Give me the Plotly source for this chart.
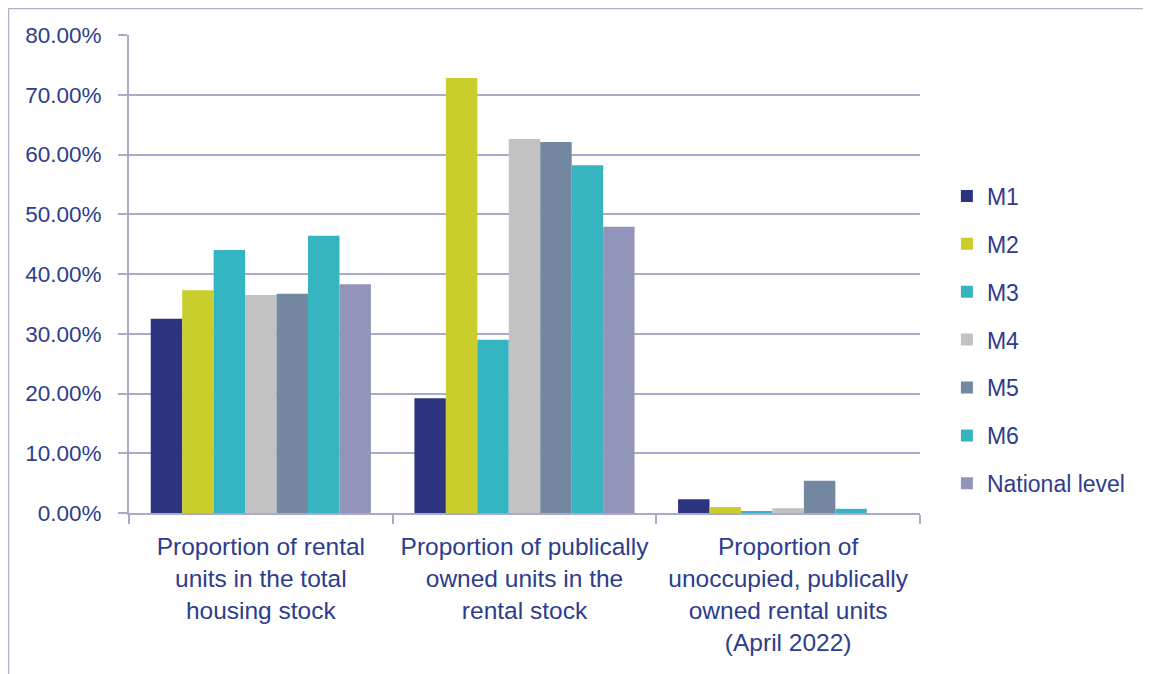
import plotly.graph_objects as go

categories = [
    "Proportion of rental<br>units in the total<br>housing stock",
    "Proportion of publically<br>owned units in the<br>rental stock",
    "Proportion of<br>unoccupied, publically<br>owned rental units<br>(April 2022)",
]
series_names = ["M1", "M2", "M3", "M4", "M5", "M6", "National level"]
m1 = [0.325, 0.192, 0.023]
m2 = [0.373, 0.728, 0.010]
m3 = [0.440, 0.290, 0.002]
m4 = [0.365, 0.626, 0.008]
m5 = [0.367, 0.621, 0.054]
m6 = [0.464, 0.582, 0.007]
national = [0.383, 0.479, None]
series_values = [m1, m2, m3, m4, m5, m6, national]
colors = ["#2c3482", "#c9ce2c", "#35b4c1", "#c2c2c2", "#7487a0", "#36b5c0", "#9294ba"]

text_color = "#2e3c8c"
grid_color = "#aaaac8"

W, H = 1143, 666
L, R, T, B = 121, 231, 27, 161

fig = go.Figure()
for i, (name, vals, col) in enumerate(zip(series_names, series_values, colors)):
    fig.add_trace(go.Bar(
        x=categories, y=vals, name=name, marker=dict(color=col, line=dict(width=0)),
        legendgroup=f"g{i}",
    ))

fig.update_layout(
    width=W, height=H,
    paper_bgcolor="white", plot_bgcolor="white",
    margin=dict(l=L, r=R, t=T, b=B, autoexpand=False),
    barmode="group", bargap=0.165, bargroupgap=0,
    font=dict(family="Liberation Sans, Arial, sans-serif", color=text_color, size=22),
    legend=dict(
        x=1.034, y=0.362, xanchor="left", yanchor="middle",
        font=dict(size=23, color=text_color),
        tracegroupgap=15, itemwidth=30,
    ),
    showlegend=True,
)
fig.update_yaxes(
    range=[0, 0.8], dtick=0.1, tickformat=".2%",
    showgrid=True, gridcolor=grid_color, gridwidth=2,
    showline=True, linecolor=grid_color, linewidth=2,
    ticks="outside", ticklen=9, tickcolor=grid_color, tickwidth=2,
    ticklabelstandoff=12, zeroline=False,
    tickfont=dict(size=22.5, color=text_color),
)
fig.update_xaxes(
    showline=True, linecolor=grid_color, linewidth=2,
    ticks="outside", tickson="boundaries", ticklen=9, tickcolor=grid_color, tickwidth=2,
    tickfont=dict(size=24.5, color=text_color),
    ticklabelstandoff=11,
)
pw = W - L - R
ph = H - T - B
# outer chart frame (left and top edges visible)
fx = (0.5 - L) / pw
fy = (H - 0.5 - B) / ph
fig.add_shape(type="line", xref="paper", yref="paper",
              x0=fx, x1=fx, y0=-B / ph, y1=fy,
              line=dict(color="#b0b0cc", width=1.5))
fig.add_shape(type="line", xref="paper", yref="paper",
              x0=fx, x1=(W - L) / pw, y0=fy, y1=fy,
              line=dict(color="#b0b0cc", width=1.5))

fig.write_html("out.html")
